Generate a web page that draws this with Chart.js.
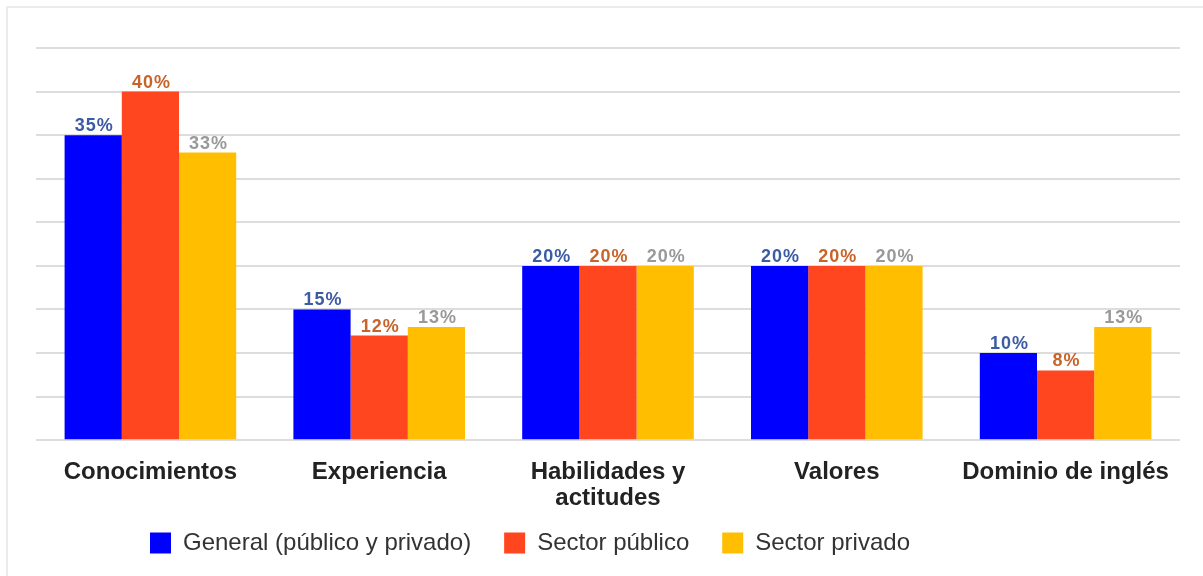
<!DOCTYPE html>
<html>
<head>
<meta charset="utf-8">
<script src="https://cdn.jsdelivr.net/npm/chart.js@4.4.1/dist/chart.umd.min.js"></script>
<style>
  html, body { margin: 0; padding: 0; background: #fff; }
  #wrap { position: relative; width: 1203px; height: 576px; overflow: hidden; }
  #frame { position: absolute; left: 6px; top: 6px; width: 1203px; height: 576px; border: 2px solid #ebebeb; box-sizing: border-box; }
  canvas { position: absolute; left: 0; top: 0; }
</style>
</head>
<body>
<div id="wrap">
  <div id="frame"></div>
  <canvas id="chart" width="1203" height="576"></canvas>
</div>
<script>
const categorias = ['Conocimientos', 'Experiencia', ['Habilidades y', 'actitudes'], 'Valores', 'Dominio de inglés'];
const general = [35, 15, 20, 20, 10];
const publico = [40, 12, 20, 20, 8];
const privado = [33, 13, 20, 20, 13];
const nomesSeries = ['General (público y privado)', 'Sector público', 'Sector privado'];
const coresBarras = ['#0000ff', '#ff461e', '#ffbf00'];
const coresRotulos = ['#3b5ba5', '#c8642a', '#999999'];

const fonte = '"Liberation Sans", Arial, sans-serif';
const legendaPad = 33;

// desenha os valores em cima de cada barra
const rotulosPlugin = {
    id: 'rotulos',
    afterDatasetsDraw(chart) {
        const ctx = chart.ctx;
        ctx.save();
        ctx.font = 'bold 18px ' + fonte;
        ctx.letterSpacing = '1px';
        ctx.textAlign = 'center';
        ctx.textBaseline = 'alphabetic';
        chart.data.datasets.forEach(function(ds, i) {
            const meta = chart.getDatasetMeta(i);
            meta.data.forEach(function(bar, j) {
                ctx.fillStyle = coresRotulos[i];
                ctx.fillText(ds.data[j] + '%', bar.x + 1, bar.y - 4);
            });
        });
        ctx.restore();
    }
};

// posiciona a legenda um pouco à esquerda, como no original
const legendaPlugin = {
    id: 'legendaPos',
    afterLayout(chart) {
        const lg = chart.legend;
        lg.left = 150 - legendaPad;
        lg.right = 1203;
        lg.top = 543 - 12 - legendaPad;
        lg.bottom = 576;
    }
};

const ctx = document.getElementById('chart').getContext('2d');
new Chart(ctx, {
    type: 'bar',
    data: {
        labels: categorias,
        datasets: [
            { label: nomesSeries[0], data: general, backgroundColor: coresBarras[0] },
            { label: nomesSeries[1], data: publico, backgroundColor: coresBarras[1] },
            { label: nomesSeries[2], data: privado, backgroundColor: coresBarras[2] }
        ]
    },
    options: {
        responsive: false,
        animation: false,
        layout: { padding: { left: 36, right: 23, top: 48, bottom: 13 } },
        datasets: { bar: { categoryPercentage: 0.75, barPercentage: 1 } },
        scales: {
            x: {
                grid: { display: false },
                border: { display: false },
                ticks: {
                    color: '#222',
                    font: { family: fonte, size: 24, weight: 'bold', lineHeight: 1.1 },
                    padding: 11,
                    maxRotation: 0,
                    autoSkip: false
                }
            },
            y: {
                min: 0,
                max: 45,
                border: { display: false },
                grid: { color: '#dddddd', lineWidth: 2, drawTicks: false },
                ticks: { display: false, stepSize: 5 }
            }
        },
        plugins: {
            tooltip: { enabled: false },
            legend: {
                position: 'bottom',
                align: 'start',
                maxHeight: 40,
                labels: {
                    boxWidth: 21,
                    boxHeight: 21,
                    padding: legendaPad,
                    color: '#333',
                    font: { family: fonte, size: 24 }
                }
            }
        }
    },
    plugins: [rotulosPlugin, legendaPlugin]
});
</script>
</body>
</html>
